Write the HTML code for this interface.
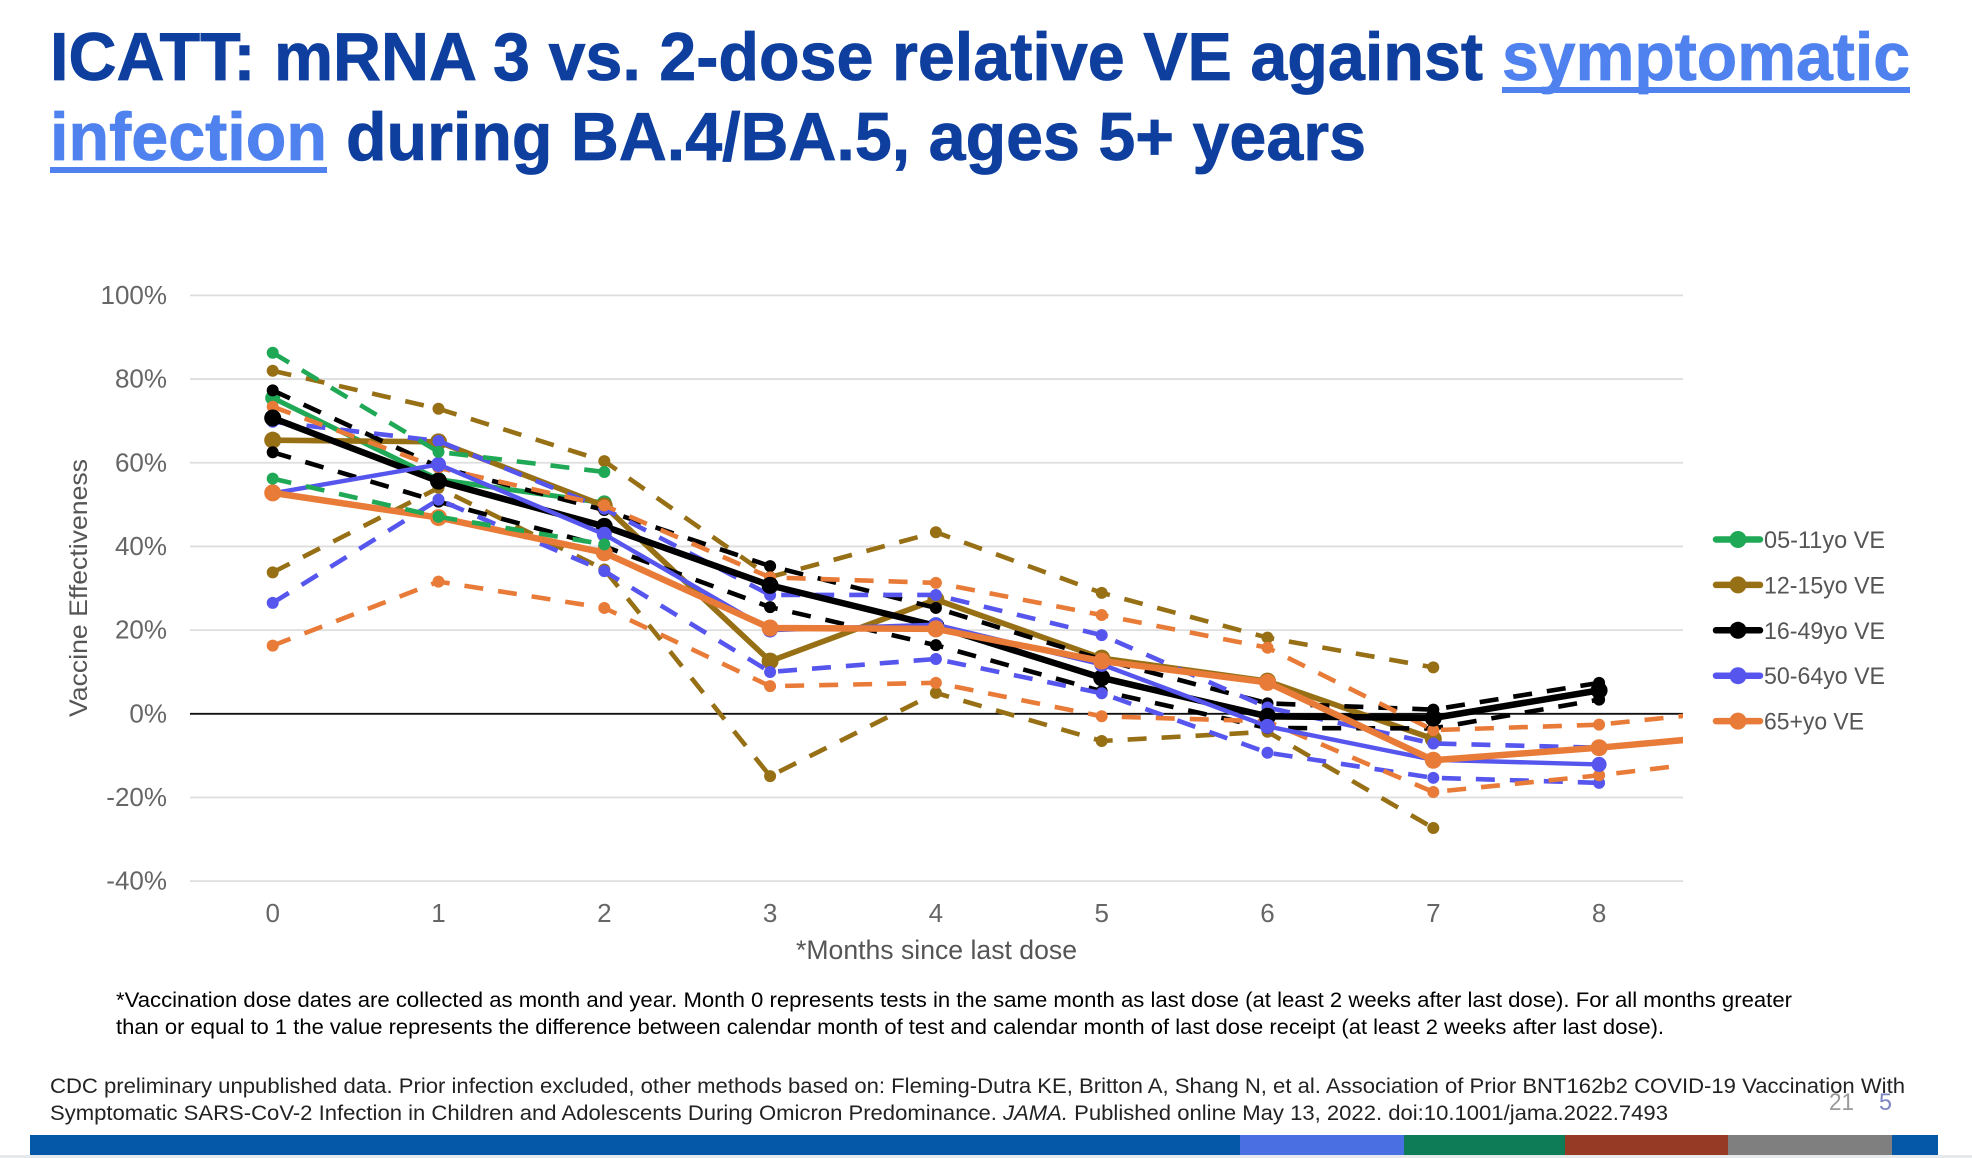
<!DOCTYPE html>
<html>
<head>
<meta charset="utf-8">
<title>ICATT chart</title>
<style>
html,body{margin:0;padding:0;background:#fff;width:1972px;height:1158px;overflow:hidden}
svg{display:block}
text{font-family:"Liberation Sans",sans-serif}
</style>
</head>
<body>
<svg id="slide" xmlns="http://www.w3.org/2000/svg" width="1972" height="1158" viewBox="0 0 1972 1158">
  <defs><clipPath id="plot-clip"><rect x="190" y="200" width="1493" height="760"/></clipPath></defs>
  <g font-weight="700" font-size="68">
    <text x="50" y="80" fill="#0e3f9f" stroke="#0e3f9f" stroke-width="0.8" textLength="1433" lengthAdjust="spacingAndGlyphs">ICATT: mRNA 3 vs. 2-dose relative VE against</text>
    <text x="1502" y="80" fill="#4f82ee" stroke="#4f82ee" stroke-width="0.8" textLength="408" lengthAdjust="spacingAndGlyphs">symptomatic</text>
    <rect x="1502" y="87" width="408" height="6" fill="#4f82ee"/>
    <text x="50" y="160" fill="#4f82ee" stroke="#4f82ee" stroke-width="0.8" textLength="277" lengthAdjust="spacingAndGlyphs">infection</text>
    <rect x="50" y="167" width="277" height="6" fill="#4f82ee"/>
    <text x="346" y="160" fill="#0e3f9f" stroke="#0e3f9f" stroke-width="0.8" textLength="1020" lengthAdjust="spacingAndGlyphs">during BA.4/BA.5, ages 5+ years</text>
  </g>
  <g id="grid"></g>
  <g id="y-ticks"></g>
  <g id="x-ticks"></g>
  <text transform="translate(87,588) rotate(-90)" text-anchor="middle" font-size="25" fill="#555" textLength="258" lengthAdjust="spacingAndGlyphs">Vaccine Effectiveness</text>
  <text x="796" y="959" font-size="26.5" fill="#555" textLength="281" lengthAdjust="spacingAndGlyphs">*Months since last dose</text>
  <g id="series" clip-path="url(#plot-clip)"></g>
  <g id="legend"></g>
  <g font-size="21.5" fill="#000">
    <text x="116" y="1007" textLength="1676" lengthAdjust="spacingAndGlyphs">*Vaccination dose dates are collected as month and year. Month 0 represents tests in the same month as last dose (at least 2 weeks after last dose).  For all months greater</text>
    <text x="116" y="1034" textLength="1548" lengthAdjust="spacingAndGlyphs">than or equal to 1 the value represents the difference between calendar month of test and calendar month of last dose receipt (at least 2 weeks after last dose).</text>
  </g>
  <g font-size="21.5" fill="#222">
    <text x="50" y="1093" textLength="1855" lengthAdjust="spacingAndGlyphs">CDC preliminary unpublished data. Prior infection excluded, other methods based on: Fleming-Dutra KE, Britton A, Shang N, et al. Association of Prior BNT162b2 COVID-19 Vaccination With</text>
    <text x="50" y="1120" textLength="1618" lengthAdjust="spacingAndGlyphs">Symptomatic SARS-CoV-2 Infection in Children and Adolescents During Omicron Predominance. <tspan font-style="italic">JAMA.</tspan> Published online May 13, 2022. doi:10.1001/jama.2022.7493</text>
  </g>
  <text x="1829" y="1110" font-size="24" fill="#9a9a9a" textLength="25" lengthAdjust="spacingAndGlyphs">21</text>
  <text x="1879" y="1110" font-size="24" fill="#7d86c4" textLength="13" lengthAdjust="spacingAndGlyphs">5</text>
  <g>
    <rect x="0" y="1155" width="1972" height="3" fill="#e6eaec"/>
    <rect x="30" y="1135" width="1210" height="20" fill="#0558a8"/>
    <rect x="1240" y="1135" width="164" height="20" fill="#4a6fe3"/>
    <rect x="1404" y="1135" width="161" height="20" fill="#0e7c57"/>
    <rect x="1565" y="1135" width="163" height="20" fill="#963a26"/>
    <rect x="1728" y="1135" width="164" height="20" fill="#7f7f7f"/>
    <rect x="1892" y="1135" width="46" height="20" fill="#0558a8"/>
  </g>
</svg>
<script>
// Chart data
var xLabels = ["0","1","2","3","4","5","6","7","8"];
var yTicks = [100,80,60,40,20,0,-20,-40];
var legendLabels = ["05-11yo VE","12-15yo VE","16-49yo VE","50-64yo VE","65+yo VE"];

var green0511Ve = [75.5,56,50.4];
var green0511Upper = [86.3,62.6,57.8];
var green0511Lower = [56.2,47.1,40.5];

var brown1215Ve = [65.4,65,49.7,12.6,27.3,13.3,7.8,-6];
var brown1215Upper = [82,72.9,60.4,32.7,43.4,28.9,18.2,11.1];
var brown1215Lower = [33.8,54,34.5,-14.9,5,-6.5,-4.3,-27.3];

var black1649Ve = [70.7,55.6,44.8,30.7,21,8.6,-0.6,-1,5.6];
var black1649Upper = [77.3,59,48.7,35.3,25.3,13,2.5,1,7.4];
var black1649Lower = [62.5,50.7,40,25.5,16.4,5.4,-3.4,-3.5,3.4];

var blue5064Ve = [52.7,59.6,42.9,20,21.3,11.8,-3,-11,-12.1];
var blue5064Upper = [69.8,65.2,49,28.4,28.4,18.8,1.5,-7.1,-8.1];
var blue5064Lower = [26.5,51.2,34.1,10,13.1,4.9,-9.3,-15.3,-16.5];

var orange65Ve = [52.8,46.9,38.5,20.5,20.3,12.6,7.5,-11.1,-8.1,-4.5];
var orange65Upper = [73.4,58.8,49.8,32.6,31.3,23.6,15.8,-3.9,-2.6,1.5];
var orange65Lower = [16.3,31.6,25.3,6.6,7.4,-0.6,-1.8,-18.7,-14.7,-10];

var NS = "http://www.w3.org/2000/svg";
function xScale(i){ return 272.7 + 165.8 * i; }
function yScale(v){ return 713.8 - 4.184 * v; }

function make(tag, attrs, parent){
  var el = document.createElementNS(NS, tag);
  for (var k in attrs) el.setAttribute(k, attrs[k]);
  parent.appendChild(el);
  return el;
}

var gridG = document.getElementById("grid");
var yG = document.getElementById("y-ticks");
yTicks.forEach(function(t){
  var line = make("line", {x1:190, x2:1683, y1:yScale(t), y2:yScale(t), stroke: t===0 ? "#111" : "#dedede", "stroke-width": t===0 ? 1.8 : 1.8}, gridG);
  
  
  var lab = make("text", {x:167, y:yScale(t)+8.5, "text-anchor":"end", "font-size":26, fill:"#666"}, yG);
  
  
  lab.textContent = t + "%";
});

var xG = document.getElementById("x-ticks");
xLabels.forEach(function(t, i){
  var lab = make("text", {x:xScale(i), y:922, "text-anchor":"middle", "font-size":26, fill:"#666"}, xG);
  
  
  lab.textContent = t;
});

var seriesG = document.getElementById("series");
function drawSeries(values, color, width, radius, dashed, name){
  var g = make("g", {}, seriesG);
  
  
  var pts = values.map(function(v, i){ return xScale(i) + "," + yScale(v); }).join(" ");
  var poly = make("polyline", {points:pts, fill:"none", stroke:color, "stroke-width":width, "stroke-linejoin":"round"}, g);
  
  
  if (dashed) poly.setAttribute("stroke-dasharray", "19 15");
  values.forEach(function(v, i){
    var dot = make("circle", {cx:xScale(i), cy:yScale(v), r:radius, fill:color}, g);
    
    
  });
}

var cGreen = "#1fa855", cBrown = "#977016", cBlack = "#000000", cBlue = "#5656ee", cOrange = "#e97b38";

drawSeries(green0511Ve, cGreen, 5, 7.5, false, "ve-05-11");
drawSeries(brown1215Ve, cBrown, 5.6, 8.5, false, "ve-12-15");
drawSeries(brown1215Upper, cBrown, 4.6, 6, true, "ci-upper-12-15");
drawSeries(brown1215Lower, cBrown, 4.6, 6, true, "ci-lower-12-15");
drawSeries(black1649Upper, cBlack, 4.6, 6, true, "ci-upper-16-49");
drawSeries(black1649Lower, cBlack, 4.6, 6, true, "ci-lower-16-49");
drawSeries(blue5064Upper, cBlue, 4.6, 6, true, "ci-upper-50-64");
drawSeries(blue5064Lower, cBlue, 4.6, 6, true, "ci-lower-50-64");
drawSeries(orange65Upper, cOrange, 4.6, 6, true, "ci-upper-65");
drawSeries(orange65Lower, cOrange, 4.6, 6, true, "ci-lower-65");
drawSeries(black1649Ve, cBlack, 6.5, 8.5, false, "ve-16-49");
drawSeries(blue5064Ve, cBlue, 4.4, 7.5, false, "ve-50-64");
drawSeries(orange65Ve, cOrange, 6.5, 8.5, false, "ve-65");
drawSeries(green0511Upper, cGreen, 4.6, 6, true, "ci-upper-05-11");
drawSeries(green0511Lower, cGreen, 4.6, 6, true, "ci-lower-05-11");

var legendColors = [cGreen, cBrown, cBlack, cBlue, cOrange];
var legendG = document.getElementById("legend");
legendLabels.forEach(function(t, i){
  var y = 539.5 + 45.4 * i;
  var g = make("g", {}, legendG);
  
  
  var l = make("line", {x1:1716, x2:1760, y1:y, y2:y, stroke:legendColors[i], "stroke-width":6.5, "stroke-linecap":"round"}, g);
  
  
  var c = make("circle", {cx:1738, cy:y, r:8.5, fill:legendColors[i]}, g);
  
  
  var tx = make("text", {x:1764, y:y+8.5, "font-size":24, fill:"#555", textLength: i===4 ? 100 : 121, lengthAdjust:"spacingAndGlyphs"}, g);
  
  
  tx.textContent = t;
});
</script>
</body>
</html>
